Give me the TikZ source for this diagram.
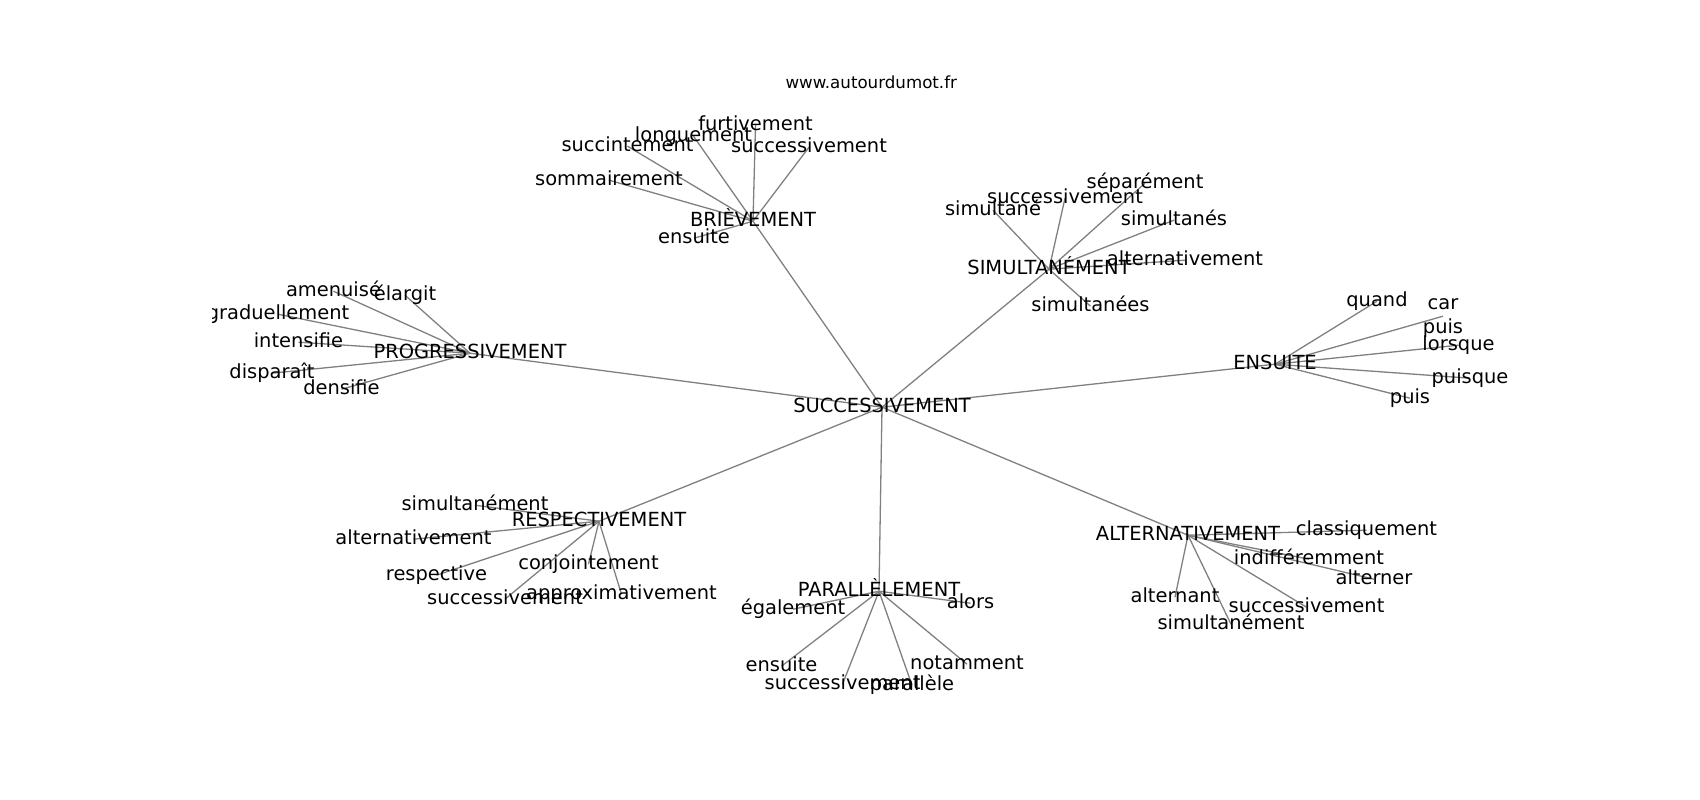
\documentclass[tikz,border=0pt]{standalone}
\usepackage{fontspec}
\setmainfont{DejaVu Sans}
\usetikzlibrary{backgrounds}
\tikzset{
  lab/.style={inner sep=0pt, outer sep=0pt, text height=14.77pt, text depth=4.04pt,
    font=\fontsize{19.44}{23.3}\selectfont, text=black},
  ttl/.style={inner sep=0pt, font=\fontsize{16.67}{20}\selectfont, text=black},
  ptn/.style={inner sep=0pt, outer sep=0pt, minimum size=0pt},
  edge/.style={draw=black!50, line width=1.3pt}
}
\begin{document}
\begin{tikzpicture}[x=1pt,y=-1pt]
\useasboundingbox (0,0) rectangle (1700,800);
\node[ttl, anchor=base] (T) at (871.25,88.8) {www.autourdumot.fr};
\begin{scope}
\clip (212.5,96) rectangle (1530,712);
\begin{scope}[yshift=-2.2pt]
% hubs
\node[lab] (S)  at (882,405)  {SUCCESSIVEMENT};
\node[lab] (B)  at (753,219)  {BRIÈVEMENT};
\node[lab] (P)  at (470,351)  {PROGRESSIVEMENT};
\node[lab] (SM) at (1049,267) {SIMULTANÉMENT};
\node[lab] (E)  at (1275,362) {ENSUITE};
\node[lab] (R)  at (599,519)  {RESPECTIVEMENT};
\node[lab] (PA) at (879,589)  {PARALLÈLEMENT};
\node[lab] (A)  at (1188,533) {ALTERNATIVEMENT};
% BRIEVEMENT group
\node[lab] (B1) at (755.5,123) {furtivement};
\node[lab] (B2) at (693.5,134) {longuement};
\node[lab] (B3) at (627.5,144) {succintement};
\node[lab] (B4) at (809,145)   {successivement};
\node[lab] (B5) at (609,178)   {sommairement};
\node[lab] (B6) at (694,236)   {ensuite};
% PROGRESSIVEMENT group
\node[lab] (P1) at (333.5,289) {amenuisé};
\node[lab] (P2) at (405,293)   {élargit};
\node[lab] (P3) at (278,312)   {graduellement};
\node[lab] (P4) at (298.5,340) {intensifie};
\node[lab] (P5) at (272,371)   {disparaît};
\node[lab] (P6) at (341.5,387) {densifie};
% SIMULTANEMENT group
\node[lab] (M1) at (1145,181)  {séparément};
\node[lab] (M2) at (1065,196)  {successivement};
\node[lab] (M3) at (993,208)   {simultané};
\node[lab] (M4) at (1174,218)  {simultanés};
\node[lab] (M5) at (1185,258)  {alternativement};
\node[lab] (M6) at (1090.5,304) {simultanées};
% ENSUITE group
\node[lab] (E1) at (1377,299)  {quand};
\node[ptn] (E2) at (1443,314)  {};
\node[lab] (E2a) at (1443,302.35) {car};
\node[lab] (E2b) at (1443,325.65) {puis};
\node[lab] (E3) at (1458.5,343) {lorsque};
\node[lab] (E4) at (1470,376)  {puisque};
\node[lab] (E5) at (1410,396)  {puis};
% RESPECTIVEMENT group
\node[lab] (R1) at (475,503)   {simultanément};
\node[lab] (R2) at (413.5,537) {alternativement};
\node[lab] (R3) at (588.5,562) {conjointement};
\node[lab] (R4) at (436.5,573) {respective};
\node[lab] (R5) at (505,597)   {successivement};
\node[lab] (R6) at (621.5,592) {approximativement};
% PARALLELEMENT group
\node[lab] (L1) at (970.5,601) {alors};
\node[lab] (L2) at (793,607)   {également};
\node[lab] (L3) at (781.5,664) {ensuite};
\node[lab] (L4) at (967,662)   {notamment};
\node[lab] (L5) at (842.5,682) {successivement};
\node[lab] (L6) at (912,683)   {parallèle};
% ALTERNATIVEMENT group
\node[lab] (A1) at (1366.5,528) {classiquement};
\node[lab] (A2) at (1309,557)  {indifféremment};
\node[lab] (A3) at (1374,577)  {alterner};
\node[lab] (A4) at (1175,595)  {alternant};
\node[lab] (A5) at (1306.5,605) {successivement};
\node[lab] (A6) at (1231,622)  {simultanément};
\end{scope}
\end{scope}
\begin{scope}[on background layer]
\foreach \a/\b in {S/B,S/P,S/SM,S/E,S/R,S/PA,S/A,
  B/B1,B/B2,B/B3,B/B4,B/B5,B/B6,
  P/P1,P/P2,P/P3,P/P4,P/P5,P/P6,
  SM/M1,SM/M2,SM/M3,SM/M4,SM/M5,SM/M6,
  E/E1,E/E2,E/E3,E/E4,E/E5,
  R/R1,R/R2,R/R3,R/R4,R/R5,R/R6,
  PA/L1,PA/L2,PA/L3,PA/L4,PA/L5,PA/L6,
  A/A1,A/A2,A/A3,A/A4,A/A5,A/A6}
  \draw[edge] (\a.center) -- (\b.center);
\end{scope}
\end{tikzpicture}
\end{document}
